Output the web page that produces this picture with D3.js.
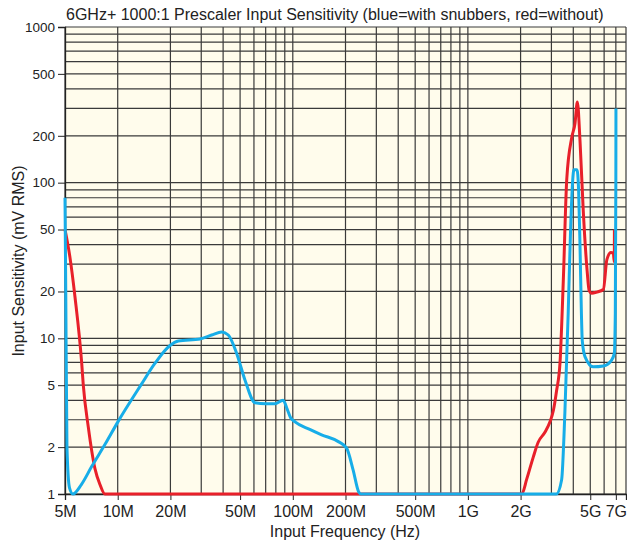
<!DOCTYPE html>
<html>
<head>
<meta charset="utf-8">
<script src="https://cdn.jsdelivr.net/npm/d3@7"></script>
<style>
  body { margin: 0; background: #fff; }
  text { font-family: "Liberation Sans", Arial, sans-serif; fill: #222; }
</style>
</head>
<body>
<div id="chart"></div>
<script>
/* DATA */
const xTickValues = [5e6, 1e7, 2e7, 5e7, 1e8, 2e8, 5e8, 1e9, 2e9, 5e9, 7e9];
const xTickLabels = ["5M", "10M", "20M", "50M", "100M", "200M", "500M", "1G", "2G", "5G", "7G"];
const yTickValues = [1, 2, 5, 10, 20, 50, 100, 200, 500, 1000];
const yTickLabels = ["1", "2", "5", "10", "20", "50", "100", "200", "500", "1000"];

// with snubbers (blue)
const blueFreq = [5e6, 5.05e6, 5.13e6, 5.3e6, 5.55e6, 6.2e6, 7.1e6, 8.5e6, 10.1e6, 13.7e6, 16.3e6,
  19.9e6, 22.2e6, 29.5e6, 34.4e6, 39.3e6, 42.8e6, 47.8e6, 53.3e6, 60.8e6, 70e6, 79e6, 88e6,
  93e6, 97e6, 103e6, 125e6, 146e6, 182e6, 203e6, 221e6, 238e6, 245e6, 3.2e9, 3.43e9, 3.58e9,
  3.74e9, 3.86e9, 3.97e9, 4.03e9, 4.2e9, 4.29e9, 4.37e9, 4.45e9, 4.5e9, 4.67e9, 5.2e9, 5.94e9,
  6.62e9, 6.86e9, 6.95e9, 7.0e9, 7.01e9];
const blueMv = [80, 20, 2.0, 1.1, 1.0, 1.15, 1.5, 2.1, 2.95, 5.1, 6.9,
  9.0, 9.6, 9.9, 10.5, 11.0, 10.5, 8.0, 5.4, 3.86, 3.8, 3.8, 4.0,
  3.5, 3.1, 2.91, 2.6, 2.4, 2.17, 1.97, 1.43, 1.03, 1.0, 1.0, 1.23, 3.3,
  14.5, 50, 104, 121, 121, 89, 39, 14.5, 9.7, 7.6, 6.56, 6.64,
  7.25, 8.0, 14.5, 100, 300];

// without snubbers (red)
const redFreq = [5e6, 5.34e6, 5.7e6, 6.23e6, 6.36e6, 6.79e6, 7.42e6, 7.92e6, 8.45e6, 2.03e9,
  2.17e9, 2.36e9, 2.52e9, 2.76e9, 2.94e9, 3.08e9, 3.21e9, 3.36e9, 3.51e9, 3.67e9, 3.92e9,
  4.09e9, 4.22e9, 4.37e9, 4.56e9, 4.8e9, 4.93e9, 5.09e9, 5.44e9, 5.94e9, 6.22e9, 6.56e9,
  6.77e9, 6.86e9, 6.87e9];
const redMv = [50, 33, 18.5, 6.9, 5.0, 2.7, 1.45, 1.15, 1.0, 1.0,
  1.25, 1.72, 2.15, 2.5, 2.9, 3.45, 4.6, 7.0, 24, 105, 195,
  240, 330, 185, 66, 27, 20.2, 19.5, 19.8, 20.6, 32, 35.6,
  35.2, 31, 50];

/* LAYOUT */
const width = 627, height = 540;
const plot = { left: 65, right: 626, top: 27, bottom: 494 };

const svg = d3.select("#chart")
  .append("svg")
  .attr("width", width)
  .attr("height", height);

const x = d3.scaleLog().domain([5e6, 8e9]).range([plot.left, plot.right]);
const y = d3.scaleLog().domain([1, 1000]).range([plot.bottom, plot.top]);

// background
svg.append("rect")
  .attr("x", plot.left)
  .attr("y", plot.top)
  .attr("width", plot.right - plot.left)
  .attr("height", plot.bottom - plot.top)
  .attr("fill", "#fffcec");

// GRID (no minor lines in the 5M-10M partial decade)
const xGrid = [5e6];
[1e7, 1e8, 1e9].forEach(d => {
  for (let k = 1; k <= 9; k++) if (k * d <= 8e9) xGrid.push(k * d);
});
const yGrid = [];
[1, 10, 100].forEach(d => {
  for (let k = 1; k <= 9; k++) yGrid.push(k * d);
});
yGrid.push(1000);

svg.append("g")
  .selectAll("line")
  .data(xGrid)
  .join("line")
  .attr("x1", d => x(d)).attr("x2", d => x(d))
  .attr("y1", plot.top).attr("y2", plot.bottom)
  .attr("stroke", "#3a3a3a")
  .attr("stroke-width", 1.2);

svg.append("g")
  .selectAll("line")
  .data(yGrid)
  .join("line")
  .attr("x1", plot.left).attr("x2", plot.right)
  .attr("y1", d => y(d)).attr("y2", d => y(d))
  .attr("stroke", "#3a3a3a")
  .attr("stroke-width", 1.2);

// AXES
const xAxis = svg.append("g")
  .attr("transform", `translate(0,${plot.bottom})`)
  .call(d3.axisBottom(x)
    .tickValues(xTickValues)
    .tickFormat((d, i) => xTickLabels[i])
    .tickSize(6)
    .tickPadding(6));
xAxis.selectAll("text").style("font-size", "16px").style("fill", "#222");

const yAxis = svg.append("g")
  .attr("transform", `translate(${plot.left},0)`)
  .call(d3.axisLeft(y)
    .tickValues(yTickValues)
    .tickFormat((d, i) => yTickLabels[i])
    .tickSize(7)
    .tickPadding(3));
yAxis.selectAll("text").style("font-size", "13.5px").style("fill", "#222");

svg.selectAll(".domain").attr("stroke", "#222").attr("stroke-width", 1.3);
svg.selectAll(".tick line").attr("stroke", "#222");

// CURVES
const line = d3.line()
  .x(d => x(d[0]))
  .y(d => y(d[1]))
  .curve(d3.curveMonotoneX);

svg.append("path")
  .datum(d3.zip(redFreq, redMv))
  .attr("d", line)
  .attr("fill", "none")
  .attr("stroke", "#e8202a")
  .attr("stroke-width", 3);

svg.append("path")
  .datum(d3.zip(blueFreq, blueMv))
  .attr("d", line)
  .attr("fill", "none")
  .attr("stroke", "#17ade8")
  .attr("stroke-width", 3);

// TEXT
svg.append("text")
  .attr("x", 66)
  .attr("y", 20)
  .style("font-size", "16px")
  .text("6GHz+ 1000:1 Prescaler Input Sensitivity (blue=with snubbers, red=without)");

svg.append("text")
  .attr("x", 345)
  .attr("y", 537)
  .attr("text-anchor", "middle")
  .style("font-size", "16px")
  .text("Input Frequency (Hz)");

svg.append("text")
  .attr("transform", "translate(24,261) rotate(-90)")
  .attr("text-anchor", "middle")
  .style("font-size", "16px")
  .text("Input Sensitivity (mV RMS)");
</script>
</body>
</html>
